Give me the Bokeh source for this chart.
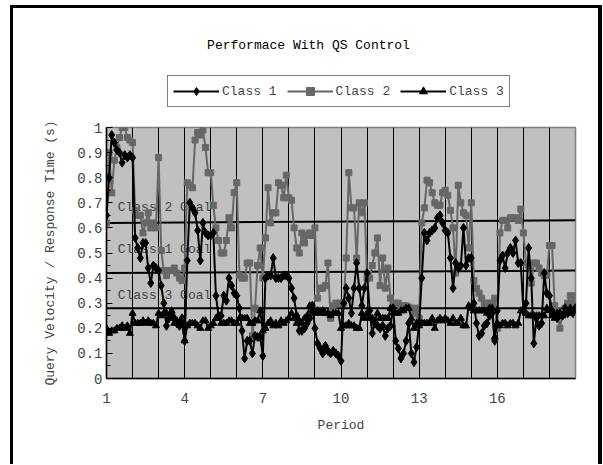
from bokeh.plotting import figure
from bokeh.layouts import column
from bokeh.models import (Range1d, FixedTicker, CustomJSTickFormatter, Legend,
                          LegendItem, ColumnDataSource)
from bokeh.core.properties import value
from bokeh.embed import file_html
from bokeh.resources import INLINE

# ---------------- data ----------------
POINTS_PER_PERIOD = 10
FIRST_PERIOD = 1

CLASS1 = [
    0.65, 0.80, 0.97, 0.94, 0.91, 0.90, 0.86, 0.89, 0.88, 0.89,
    0.88, 0.56, 0.52, 0.48, 0.54, 0.54, 0.44, 0.38, 0.45, 0.44,
    0.43, 0.37, 0.30, 0.21, 0.24, 0.26, 0.24, 0.22, 0.21, 0.24,
    0.15, 0.47, 0.70, 0.68, 0.66, 0.59, 0.47, 0.62, 0.58, 0.57,
    0.57, 0.58, 0.33, 0.25, 0.25, 0.33, 0.31, 0.40, 0.37, 0.34,
    0.33, 0.28, 0.19, 0.08, 0.15, 0.15, 0.10, 0.17, 0.165, 0.165,
    0.09, 0.40, 0.41, 0.41, 0.48, 0.40, 0.40, 0.40, 0.41, 0.41,
    0.40, 0.36, 0.32, 0.25, 0.19, 0.19, 0.20, 0.22, 0.24, 0.29,
    0.20, 0.14, 0.12, 0.10, 0.13, 0.11, 0.10, 0.11, 0.10, 0.09,
    0.07, 0.30, 0.36, 0.32, 0.26, 0.36, 0.46, 0.36, 0.29, 0.36,
    0.42, 0.27, 0.18, 0.22, 0.21, 0.20, 0.21, 0.17, 0.20, 0.21,
    0.28, 0.15, 0.12, 0.08, 0.10, 0.15, 0.22, 0.10, 0.065, 0.125,
    0.22, 0.40, 0.58, 0.55, 0.58, 0.59, 0.60, 0.64, 0.65, 0.62,
    0.59, 0.58, 0.48, 0.36, 0.46, 0.44, 0.45, 0.60, 0.45, 0.48,
    0.48, 0.30, 0.22, 0.17, 0.18, 0.21, 0.22, 0.25, 0.26, 0.15,
    0.27, 0.47, 0.49, 0.44, 0.50, 0.52, 0.50, 0.55, 0.46, 0.46,
    0.27, 0.30, 0.52, 0.40, 0.14, 0.24, 0.21, 0.22, 0.42, 0.34,
    0.33, 0.27, 0.25, 0.24, 0.26, 0.25, 0.28, 0.26, 0.27, 0.26,
    0.28,
]

CLASS2 = [
    0.62, 0.90, 0.74, 0.87, 0.92, 0.96, 1.00, 1.00, 0.96, 0.95,
    0.94, 0.67, 0.65, 0.65, 0.58, 0.62, 0.66, 0.60, 0.62, 0.60,
    0.88, 0.51, 0.43, 0.41, 0.43, 0.43, 0.44, 0.42, 0.40, 0.39,
    0.44, 0.78, 0.77, 0.76, 0.95, 0.98, 0.97, 0.99, 0.92, 0.82,
    0.82, 0.69, 0.60, 0.55, 0.50, 0.50, 0.55, 0.64, 0.60, 0.74,
    0.78, 0.41, 0.40, 0.40, 0.46, 0.46, 0.17, 0.28, 0.45, 0.52,
    0.40, 0.56, 0.76, 0.62, 0.66, 0.66, 0.78, 0.77, 0.72, 0.81,
    0.72, 0.71, 0.60, 0.52, 0.50, 0.58, 0.54, 0.57, 0.58, 0.57,
    0.60, 0.32, 0.36, 0.36, 0.37, 0.46, 0.24, 0.29, 0.30, 0.30,
    0.30, 0.30, 0.48, 0.82, 0.68, 0.68, 0.48, 0.70, 0.66, 0.70,
    0.40, 0.40, 0.45, 0.50, 0.56, 0.37, 0.48, 0.36, 0.44, 0.32,
    0.30, 0.30, 0.30, 0.29, 0.29, 0.29, 0.285, 0.28, 0.26, 0.28,
    0.24, 0.62, 0.68, 0.79, 0.78, 0.74, 0.70, 0.69, 0.69, 0.74,
    0.75, 0.73, 0.67, 0.60, 0.42, 0.77, 0.70, 0.66, 0.65, 0.52,
    0.70, 0.39, 0.36, 0.34, 0.32, 0.30, 0.30, 0.30, 0.30, 0.32,
    0.20, 0.58, 0.63, 0.63, 0.60, 0.64, 0.64, 0.64, 0.63, 0.675,
    0.58, 0.46, 0.45, 0.38, 0.46, 0.46, 0.44, 0.42, 0.41, 0.41,
    0.53, 0.53, 0.29, 0.27, 0.20, 0.26, 0.28, 0.30, 0.33, 0.30,
    0.33,
]

CLASS3 = [
    0.20, 0.18, 0.19, 0.19, 0.20, 0.20, 0.21, 0.20, 0.21, 0.18,
    0.26, 0.22, 0.22, 0.22, 0.23, 0.22, 0.23, 0.22, 0.22, 0.21,
    0.26, 0.25, 0.26, 0.26, 0.24, 0.27, 0.22, 0.23, 0.22, 0.22,
    0.15, 0.21, 0.22, 0.22, 0.22, 0.21, 0.20, 0.23, 0.23, 0.20,
    0.21, 0.22, 0.24, 0.24, 0.22, 0.22, 0.22, 0.23, 0.23, 0.22,
    0.22, 0.24, 0.24, 0.24, 0.24, 0.22, 0.22, 0.23, 0.23, 0.27,
    0.19, 0.20, 0.22, 0.23, 0.21, 0.22, 0.21, 0.23, 0.22, 0.23,
    0.24, 0.26, 0.24, 0.22, 0.23, 0.22, 0.24, 0.25, 0.29, 0.27,
    0.26, 0.27, 0.26, 0.27, 0.26, 0.26, 0.25, 0.26, 0.26, 0.26,
    0.20, 0.21, 0.21, 0.22, 0.21, 0.21, 0.20, 0.20, 0.26, 0.24,
    0.26, 0.24, 0.24, 0.23, 0.26, 0.24, 0.24, 0.24, 0.24, 0.28,
    0.26, 0.26, 0.26, 0.27, 0.27, 0.28, 0.28, 0.24, 0.20, 0.22,
    0.21, 0.22, 0.22, 0.22, 0.22, 0.24, 0.20, 0.23, 0.24, 0.23,
    0.24, 0.23, 0.22, 0.24, 0.22, 0.22, 0.24, 0.21, 0.21, 0.29,
    0.28, 0.27, 0.27, 0.27, 0.27, 0.27, 0.26, 0.28, 0.28, 0.165,
    0.22, 0.21, 0.22, 0.22, 0.21, 0.22, 0.22, 0.21, 0.22, 0.27,
    0.27, 0.26, 0.25, 0.25, 0.25, 0.25, 0.25, 0.25, 0.25, 0.28,
    0.27, 0.25, 0.24, 0.26, 0.26, 0.25, 0.26, 0.26, 0.28, 0.27,
    0.28,
]

PERIODS = [FIRST_PERIOD + i / POINTS_PER_PERIOD for i in range(len(CLASS1))]

GOAL_X = [1, 19]
CLASS2_GOAL = [0.62, 0.63]
CLASS1_GOAL = [0.42, 0.43]
CLASS3_GOAL = [0.28, 0.28]

GOAL_LABELS = ["Class 2 Goal", "Class 1 Goal", "Class 3 Goal"]
GOAL_LABEL_X = [1.43, 1.43, 1.43]
GOAL_LABEL_Y = [0.68, 0.515, 0.33]

SERIES_NAMES = ["Class 1", "Class 2", "Class 3"]
X_TICKS = [1, 4, 7, 10, 13, 16]
X_GRID = list(range(1, 20))
Y_TICKS = [0, 0.1, 0.2, 0.3, 0.4, 0.5, 0.6, 0.7, 0.8, 0.9, 1.0]
Y_MINOR = [0.05, 0.15, 0.25, 0.35, 0.45, 0.55, 0.65, 0.75, 0.85, 0.95]

TITLE = "Performace With QS Control"
X_LABEL = "Period"
Y_LABEL = "Query Velocity / Response Time (s)"

FONT = "Liberation Mono"
GRAY = "#676767"

W = 602
HEAD_H = 117
MAIN_H = 347
LEFT, RIGHT = 106, 27          # borders around the plotting area

src = ColumnDataSource(dict(x=PERIODS, c1=CLASS1, c2=CLASS2, c3=CLASS3))

# ---------------- header (title + legend) ----------------
# its frame is aligned by the column layout with the main frame; use pixel units
head = figure(width=W, height=HEAD_H, output_backend="svg", toolbar_location=None,
              x_range=Range1d(LEFT, W - RIGHT), y_range=Range1d(0, HEAD_H),
              x_axis_type=None, y_axis_type=None, min_border=0,
              min_border_left=LEFT, min_border_right=RIGHT)
head.grid.visible = False
head.outline_line_color = None
head.background_fill_alpha = 0
head.border_fill_alpha = 0
head.styles = {"box-shadow": "inset 10px 5px 0 0 white, inset 13px 8px 0 0 black, "
                             "inset -4px 0 0 0 black"}

head.text(x=[308], y=[HEAD_H - 45], text=[TITLE], text_font=value(FONT),
          text_font_size="13px", text_color="black", text_align="center",
          text_baseline="middle")

# legend keys: the series drawn in the header's pixel space fall outside it,
# so only their legend swatches show
k1l = head.line("x", "c1", source=src, line_color="black", line_width=2)
k1s = head.scatter("x", "c1", source=src, marker="diamond", size=9,
                   fill_color="black", line_color="black")
k2l = head.line("x", "c2", source=src, line_color=GRAY, line_width=2)
k2s = head.scatter("x", "c2", source=src, marker="square", size=6,
                   fill_color=GRAY, line_color=GRAY)
k3l = head.line("x", "c3", source=src, line_color="black", line_width=2)
k3s = head.scatter("x", "c3", source=src, marker="triangle", size=7,
                   fill_color="black", line_color="black")

legend = Legend(items=[LegendItem(label=SERIES_NAMES[0], renderers=[k1l, k1s]),
                       LegendItem(label=SERIES_NAMES[1], renderers=[k2l, k2s]),
                       LegendItem(label=SERIES_NAMES[2], renderers=[k3l, k3s])],
                orientation="horizontal", location=(167 - LEFT, 10),
                border_line_color="black", border_line_width=1,
                background_fill_color="white", background_fill_alpha=1,
                label_text_font=FONT, label_text_font_size="13px",
                glyph_width=46, glyph_height=20, label_height=20,
                label_standoff=3, spacing=10, padding=5, margin=0)
head.add_layout(legend)

# ---------------- main chart ----------------
p = figure(width=W, height=MAIN_H, output_backend="svg", toolbar_location=None,
           x_range=Range1d(1, 19), y_range=Range1d(0, 1),
           min_border_left=LEFT, min_border_right=RIGHT, min_border_top=10,
           min_border_bottom=86)
p.styles = {"box-shadow": "inset 10px 0 0 0 white, inset 13px 0 0 0 black, "
                          "inset -4px 0 0 0 black"}

p.background_fill_color = "#C0C0C0"
p.border_fill_alpha = 0
p.outline_line_color = "#808080"
p.outline_line_width = 1.5

# grids
p.ygrid.visible = False
p.xgrid.ticker = FixedTicker(ticks=X_GRID)
p.xgrid.grid_line_color = "black"
p.xgrid.grid_line_width = 1

# axes
xa = p.xaxis[0]
xa.ticker = FixedTicker(ticks=X_TICKS)
xa.axis_line_color = "black"
xa.axis_line_width = 1.5
xa.major_tick_in = 0
xa.major_tick_out = 0
xa.minor_tick_in = 0
xa.minor_tick_out = 0
xa.major_label_text_font = FONT
xa.major_label_text_font_size = "14px"
xa.major_label_standoff = 14
xa.axis_label = X_LABEL
xa.axis_label_text_font = FONT
xa.axis_label_text_font_size = "13px"
xa.axis_label_text_font_style = "normal"
xa.axis_label_standoff = 12

ya = p.yaxis[0]
ya.ticker = FixedTicker(ticks=Y_TICKS, minor_ticks=Y_MINOR)
ya.formatter = CustomJSTickFormatter(code="return (Math.round(tick*10)/10).toString();")
ya.axis_line_color = "black"
ya.axis_line_width = 1.5
ya.major_tick_in = 6
ya.major_tick_out = 0
ya.minor_tick_in = 4
ya.minor_tick_out = 0
ya.major_tick_line_color = "black"
ya.minor_tick_line_color = "black"
ya.major_label_text_font = FONT
ya.major_label_text_font_size = "14px"
ya.major_label_standoff = 4
ya.axis_label = Y_LABEL
ya.axis_label_text_font = FONT
ya.axis_label_text_font_size = "13px"
ya.axis_label_text_font_style = "normal"
ya.axis_label_standoff = 16

# goal lines
for g in (CLASS2_GOAL, CLASS1_GOAL, CLASS3_GOAL):
    p.line(GOAL_X, g, line_color="black", line_width=2)

p.text(x=GOAL_LABEL_X, y=GOAL_LABEL_Y, text=GOAL_LABELS,
       text_font=value(FONT), text_font_size="13px", text_color="#404040",
       text_align="left", text_baseline="middle")

p.line("x", "c2", source=src, line_color=GRAY, line_width=2)
p.scatter("x", "c2", source=src, marker="square", size=6,
          fill_color=GRAY, line_color=GRAY)
p.line("x", "c1", source=src, line_color="black", line_width=2)
p.scatter("x", "c1", source=src, marker="diamond", size=9,
          fill_color="black", line_color="black")
p.line("x", "c3", source=src, line_color="black", line_width=2)
p.scatter("x", "c3", source=src, marker="triangle", size=7,
          fill_color="black", line_color="black")

layout = column(head, p, spacing=0)

open("out.html", "w").write(file_html(layout, INLINE))
